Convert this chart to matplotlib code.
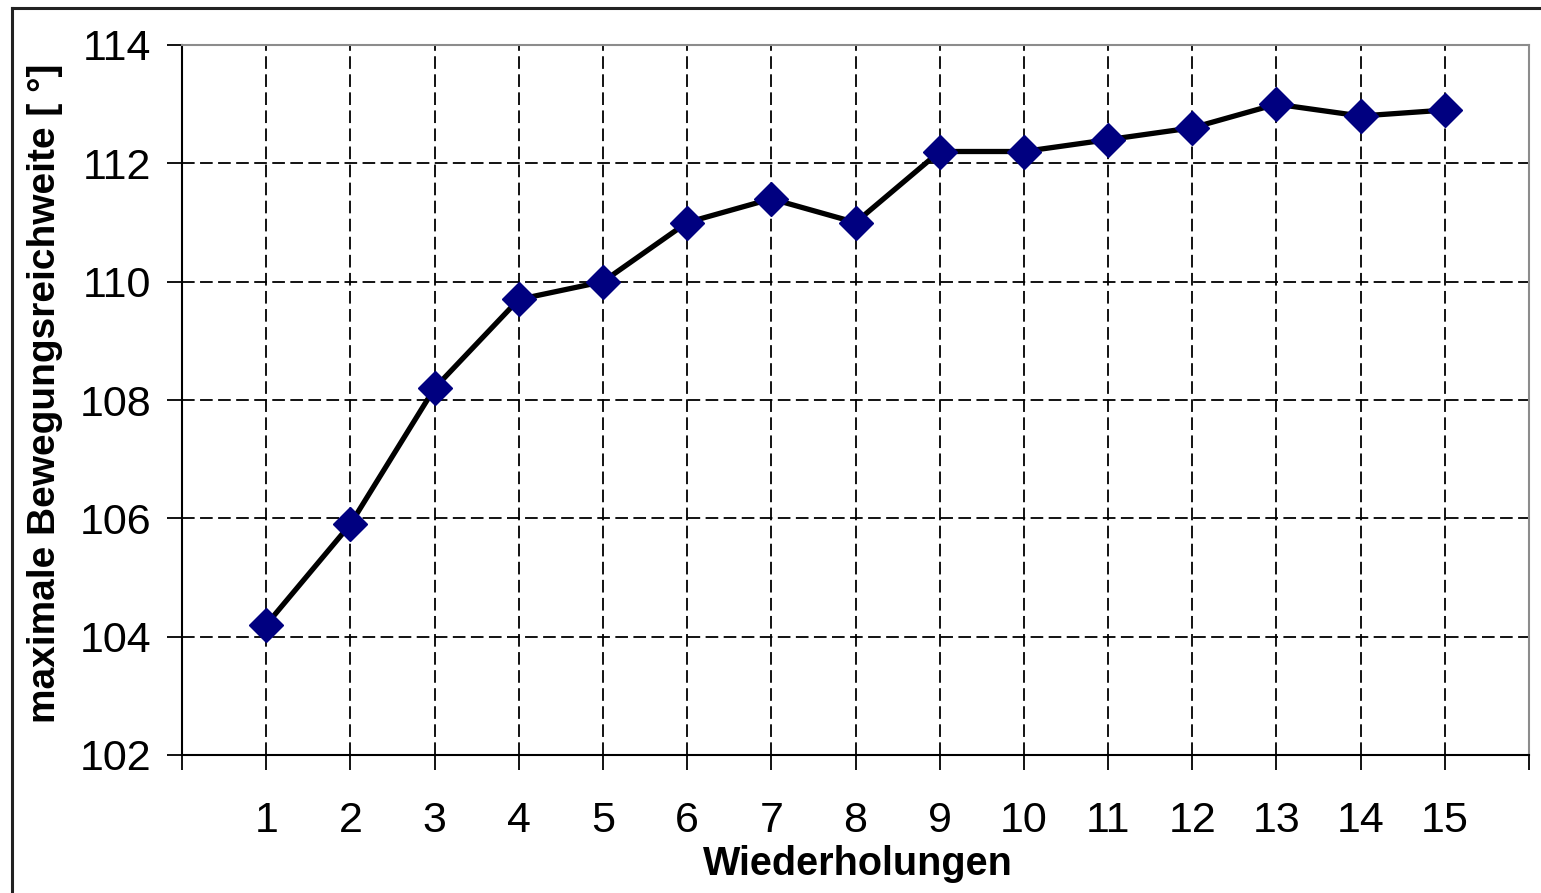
import matplotlib.pyplot as plt
from matplotlib.lines import Line2D

# Wiederholungen und maximale Bewegungsreichweite
wiederholungen = list(range(1, 16))
reichweite = [104.2, 105.9, 108.2, 109.7, 110.0, 111.0, 111.4, 111.0,
              112.2, 112.2, 112.4, 112.6, 113.0, 112.8, 112.9]
y_ticks = [102, 104, 106, 108, 110, 112, 114]

plt.rcParams['font.family'] = ['Liberation Sans', 'DejaVu Sans']

fig = plt.figure(figsize=(15.41, 8.93), dpi=100)
ax = fig.add_axes([182 / 1541, 1 - 755 / 893, (1529 - 182) / 1541, (755 - 45) / 893])

# dashed grid
for x in wiederholungen:
    ax.axvline(x, color='black', lw=1.3, ls=(0, (7, 3)), zorder=1)
for y in y_ticks[1:-1]:
    ax.axhline(y, color='black', lw=1.3, ls=(0, (7, 3)), zorder=1)

ax.plot(wiederholungen, reichweite, color='black', lw=3.8, zorder=2)
ax.plot(wiederholungen, reichweite, ls='none', marker='D', ms=17,
        color='#000080', mec='#000080', zorder=3)

ax.set_xlim(0, 16)
ax.set_ylim(102, 114)
ax.set_yticks(y_ticks)
ax.set_xticks(range(0, 17))
ax.set_xticklabels([''] + [str(w) for w in wiederholungen] + [''])

ax.tick_params(axis='both', direction='out', length=11, width=1.3,
               labelsize=31, color='black')
ax.tick_params(axis='y', pad=11)
ax.tick_params(axis='x', pad=22)

ax.spines['left'].set_color('black')
ax.spines['bottom'].set_color('black')
ax.spines['left'].set_linewidth(1.5)
ax.spines['bottom'].set_linewidth(1.5)
ax.spines['top'].set_color('#8c8c8c')
ax.spines['right'].set_color('#8c8c8c')
ax.spines['top'].set_linewidth(1.5)
ax.spines['right'].set_linewidth(1.5)

fig.text(858 / 1541, 1 - 864 / 893, 'Wiederholungen', fontsize=28.5,
         fontweight='bold', ha='center', va='center')
fig.text(45 / 1541, 1 - 393 / 893, 'maximale Bewegungsreichweite [ °]',
         fontsize=28, fontweight='bold', rotation=90, ha='center', va='center')

# outer frame
fig.add_artist(Line2D([12 / 1541, 12 / 1541], [0, 1 - 8 / 893], color='#222222', lw=2.2))
fig.add_artist(Line2D([12 / 1541, 1], [1 - 8 / 893, 1 - 8 / 893], color='#222222', lw=2.2))

fig.savefig('out.png', dpi=100)
